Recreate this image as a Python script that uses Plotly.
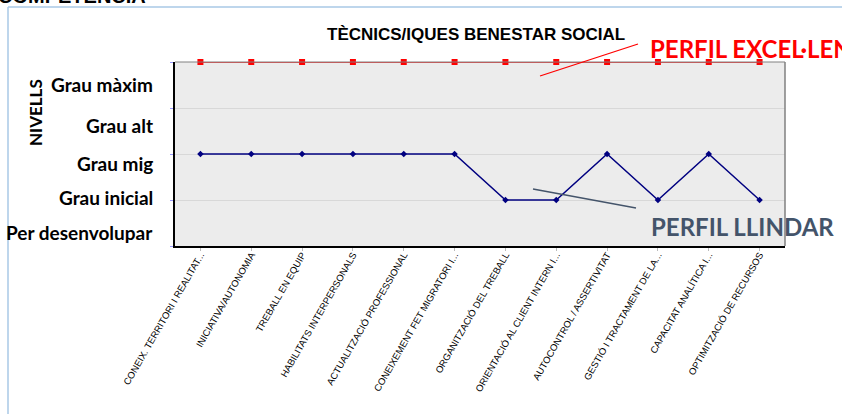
import plotly.graph_objects as go

categories = [
    "CONEIX. TERRITORI I REALITAT...",
    "INICIATIVA/AUTONOMIA",
    "TREBALL EN EQUIP",
    "HABILITATS INTERPERSONALS",
    "ACTUALITZACIÓ PROFESSIONAL",
    "CONEIXEMENT FET MIGRATORI I...",
    "ORGANITZACIÓ DEL TREBALL",
    "ORIENTACIÓ AL CLIENT INTERN I...",
    "AUTOCONTROL / ASSERTIVITAT",
    "GESTIÓ I TRACTAMENT DE LA...",
    "CAPACITAT ANALÍTICA I...",
    "OPTIMITZACIÓ DE RECURSOS",
]
perfil_excellent = [4, 4, 4, 4, 4, 4, 4, 4, 4, 4, 4, 4]
perfil_llindar = [2, 2, 2, 2, 2, 2, 1, 1, 2, 1, 2, 1]
level_labels = ["Per desenvolupar", "Grau inicial", "Grau mig", "Grau alt", "Grau màxim"]

W, H = 842, 414
L, R, T, B = 175, 57, 62, 168
pw, ph = W - L - R, H - T - B

def px(x):
    return (x - L) / pw

def py(y):
    return (H - B - y) / ph

xs = list(range(len(categories)))

fig = go.Figure()
fig.add_trace(go.Scatter(
    x=xs, y=perfil_excellent, mode="lines+markers",
    line=dict(color="#ff0000", width=1.3),
    marker=dict(symbol="square", size=6, color="#ff0000"),
    cliponaxis=False, showlegend=False,
))
fig.add_trace(go.Scatter(
    x=xs, y=perfil_llindar, mode="lines+markers",
    line=dict(color="#000080", width=1.5),
    marker=dict(symbol="diamond", size=5, color="#000080"),
    cliponaxis=False, showlegend=False,
))

# level labels (offset like the original)
label_pix_y = [232, 197, 163, 125, 84]
annotations = []
for lab, yy in zip(level_labels, label_pix_y):
    annotations.append(dict(
        x=px(155), y=py(yy), xref="paper", yref="paper", text="<b>%s</b>" % lab,
        showarrow=False, xanchor="right", yanchor="middle",
        font=dict(family="Lato", size=19, color="#000000"),
    ))
annotations += [
    dict(x=px(35), y=py(113), xref="paper", yref="paper", text="<b>NIVELLS</b>",
         showarrow=False, textangle=-90, xanchor="center", yanchor="middle",
         font=dict(family="Lato", size=17, color="#000000")),
    dict(x=px(476), y=py(34), xref="paper", yref="paper", text="<b>TÈCNICS/IQUES BENESTAR SOCIAL</b>",
         showarrow=False, xanchor="center", yanchor="middle",
         font=dict(family="Liberation Sans", size=17, color="#000000")),
    dict(x=px(648), y=py(48), xref="paper", yref="paper", text="<b>PERFIL EXCEL·LENT</b>",
         showarrow=False, xanchor="left", yanchor="middle",
         font=dict(family="Lato", size=24, color="#ff0000")),
    dict(x=px(649), y=py(226), xref="paper", yref="paper", text="<b>PERFIL LLINDAR</b>",
         showarrow=False, xanchor="left", yanchor="middle",
         font=dict(family="Lato", size=24, color="#44546a")),
    dict(x=px(148), y=py(9), xref="paper", yref="paper", text="<b>COMPETÈNCIA</b>",
         showarrow=False, xanchor="right", yanchor="bottom",
         font=dict(family="Liberation Sans", size=20, color="#000000")),
]

shapes = [
    # plot frame top / right
    dict(type="line", xref="paper", yref="paper", x0=0, x1=1, y0=1, y1=1, line=dict(color="#808080", width=1)),
    dict(type="line", xref="paper", yref="paper", x0=1, x1=1, y0=0, y1=1, line=dict(color="#808080", width=1.5)),
    # pointer lines
    dict(type="line", xref="paper", yref="paper", x0=px(540), y0=py(76), x1=px(638), y1=py(44),
         line=dict(color="#ff0000", width=1.3)),
    dict(type="line", xref="paper", yref="paper", x0=px(533), y0=py(189), x1=px(636), y1=py(208),
         line=dict(color="#44546a", width=1.3)),
    # page border lines
    dict(type="line", xref="paper", yref="paper", x0=px(8), y0=py(7), x1=px(8), y1=py(414),
         line=dict(color="#a9c8e6", width=1.5)),
    dict(type="line", xref="paper", yref="paper", x0=px(8), y0=py(7), x1=px(842), y1=py(7),
         line=dict(color="#a9c8e6", width=1.5)),
]

fig.update_layout(
    width=W, height=H,
    margin=dict(l=L, r=R, t=T, b=B),
    paper_bgcolor="#ffffff", plot_bgcolor="#ececec",
    annotations=annotations, shapes=shapes,
    xaxis=dict(
        range=[-0.5, len(categories) - 0.5], tickmode="array", tickvals=xs, ticktext=categories,
        tickangle=-60, tickson="boundaries", ticks="outside", ticklen=3, tickcolor="#bbbbbb",
        ticklabelstandoff=-5,
        showline=True, linecolor="#000000", linewidth=1.5, showgrid=False, zeroline=False,
        tickfont=dict(family="Liberation Sans", size=9.5, color="#000000"),
    ),
    yaxis=dict(
        range=[0, 4], tickvals=[0, 1, 2, 3, 4], showticklabels=False,
        ticks="outside", ticklen=3, tickcolor="#9999ff",
        showline=True, linecolor="#000000", linewidth=1.5,
        showgrid=True, gridcolor="#d8d8d8", gridwidth=1, zeroline=False,
    ),
)

fig.write_html(
    "out.html",
    config={"displayModeBar": False},
    post_script="document.body.style.margin='0';document.body.style.overflow='hidden';",
)
